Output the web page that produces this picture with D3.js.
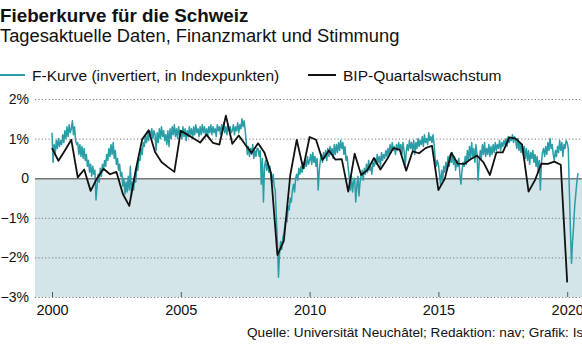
<!DOCTYPE html>
<html>
<head>
<meta charset="utf-8">
<script src="https://cdn.jsdelivr.net/npm/d3@7"></script>
<style>
  body { margin: 0; background: #fff; }
  svg { display: block; font-family: "Liberation Sans", Arial, sans-serif; }
</style>
</head>
<body>
<script>
// quarterly GDP growth, 2000Q1 .. 2020Q1 (in %)
var bipValues = [
  0.76, 0.44, 0.70, 0.97,
  0.02, 0.22, -0.32, 0.00,
  0.24, 0.10, 0.16, -0.40,
  -0.70, 0.20, 0.98, 1.21,
  0.66, 0.41, 0.28, 0.16,
  1.20, 1.10, 1.00, 0.90,
  1.10, 0.89, 0.85, 1.58,
  0.87, 1.08, 0.85, 0.64,
  0.88, 0.64, 0.13, -1.94,
  -1.58, 0.08, 0.97, 0.25,
  1.04, 0.97, 0.46, 0.70,
  0.47, 0.48, -0.34, 0.62,
  0.08, 0.21, 0.51, 0.22,
  0.47, 0.76, 0.72, 0.19,
  0.68, 0.63, 0.76, 0.82,
  -0.30, -0.01, 0.64, 0.37,
  0.36, 0.48, 0.57, 0.40,
  0.08, 0.65, 0.65, 1.03,
  1.00, 0.85, -0.34, -0.05,
  0.37, 0.36, 0.42, 0.34,
  -2.63
];

// F-Kurve, inverted, two readings per month from Jan 2000
var fKurveValues = [
  // 2000
  1.15, 0.4, 0.85, 0.6, 0.95, 0.75, 1.0, 0.8, 0.95, 0.85, 1.1, 0.9, 1.2, 1.0, 1.3, 1.05, 1.35, 1.15, 1.25, 1.45, 1.1, 1.3, 0.95, 0.85,
  // 2001
  0.9, 0.6, 0.85, 0.55, 0.8, 0.5, 0.75, 0.45, 0.6, 0.3, 0.45, 0.15, 0.35, 0.05, 0.3, 0.1, 0.2, -0.55, -0.2, 0.1, -0.1, 0.25, 0.05, 0.35,
  // 2002
  0.2, 0.45, 0.3, 0.6, 0.45, 0.75, 0.55, 0.85, 0.6, 0.9, 0.5, 0.7, 0.35, 0.5, 0.2, 0.35, 0.05, 0.15, -0.2, 0.0, -0.4, -0.1, -0.35, 0.05,
  // 2003
  -0.3, 0.3, -0.45, -0.1, -0.3, 0.05, -0.1, 0.3, 0.2, 0.5, 0.45, 0.75, 0.6, 0.9, 0.8, 1.05, 0.9, 1.15, 0.95, 1.2, 1.05, 1.25, 1.0, 1.2,
  // 2004
  1.1, 0.7, 1.15, 0.9, 1.25, 1.0, 1.3, 1.05, 1.2, 0.95, 1.1, 0.85, 1.2, 0.8, 1.25, 1.0, 1.3, 1.1, 1.35, 1.05, 1.25, 1.0, 1.3, 1.1,
  // 2005
  1.2, 1.0, 1.3, 1.05, 1.25, 0.95, 1.2, 1.05, 1.3, 1.1, 1.25, 1.0, 1.3, 1.1, 1.35, 1.15, 1.25, 1.05, 1.3, 1.1, 1.35, 1.15, 1.3, 1.1,
  // 2006
  1.25, 1.05, 1.3, 1.15, 1.35, 1.1, 1.3, 1.15, 1.25, 1.05, 1.35, 1.2, 1.3, 1.1, 1.35, 1.2, 1.4, 1.15, 1.3, 1.1, 1.35, 1.2, 1.3, 1.15,
  // 2007
  1.2, 1.35, 1.1, 1.3, 1.2, 1.4, 1.15, 1.35, 1.25, 1.5, 1.3, 1.45, 1.2, 0.9, 0.6, 0.8, 0.55, 0.75, 0.6, 0.85, 0.5, 0.7, 0.55, 0.75,
  // 2008
  0.75, 0.55, 0.7, -0.15, 0.5, -0.6, 0.3, 0.45, 0.2, 0.4, 0.15, 0.3, 0.0, -0.1, 0.1, -0.2, -0.3, -1.0, -1.6, -2.5, -1.9, -1.6, -1.8, -1.5,
  // 2009
  -1.4, -1.2, -1.0, -1.1, -0.7, -0.8, -0.5, -0.6, -0.3, -0.15, -0.35, 0.0, 0.1, -0.05, 0.25, 0.1, 0.3, 0.15, 0.4, 0.25, 0.45, 0.3, 0.55, 0.35,
  // 2010
  0.45, 0.6, 0.35, 0.65, 0.4, 0.55, 0.3, 0.5, -0.3, 0.2, 0.45, 0.6, 0.4, 0.65, 0.5, 0.7, 0.45, 0.75, 0.55, 0.8, 0.6, 0.75, 0.5, 0.85,
  // 2011
  0.6, 0.85, 0.65, 0.9, 0.7, 0.95, 0.75, 0.9, 0.6, 0.8, 0.45, 0.55, 0.25, 0.0, -0.3, 0.05, -0.35, -0.1, 0.0, -0.6, -0.2, 0.05, -0.45, -0.1,
  // 2012
  0.05, 0.2, -0.05, 0.25, 0.1, 0.35, 0.15, 0.45, 0.2, 0.3, 0.1, 0.4, 0.3, 0.5, 0.35, 0.6, 0.4, 0.55, 0.3, 0.65, 0.45, 0.6, 0.5, 0.7,
  // 2013
  0.55, 0.75, 0.6, 0.85, 0.65, 0.9, 0.7, 0.8, 0.6, 0.85, 0.7, 0.9, 0.75, 0.85, 0.6, 0.9, 0.7, 0.3, 0.65, 0.85, 0.7, 0.95, 0.75, 0.9,
  // 2014
  0.7, 0.95, 0.6, 0.9, 0.75, 1.0, 0.8, 0.95, 0.85, 1.05, 0.8, 1.1, 0.9, 1.0, 0.85, 1.15, 0.95, 1.05, 0.9, 1.1, 0.85, 0.5, 0.3, 0.45,
  // 2015
  0.35, 0.1, -0.15, 0.2, -0.05, 0.3, 0.15, 0.4, 0.25, 0.55, 0.3, 0.6, 0.4, 0.65, 0.35, 0.55, 0.2, 0.45, 0.3, 0.5, 0.1, -0.15, 0.2, 0.4,
  // 2016
  0.3, 0.55, 0.35, 0.7, 0.45, 0.8, 0.5, 0.9, 0.55, 0.75, 0.4, 0.85, 0.6, -0.05, 0.4, 0.7, 0.5, 0.85, 0.6, 0.9, 0.55, 0.75, 0.6, 0.85,
  // 2017
  0.55, 0.8, 0.6, 0.85, 0.65, 0.9, 0.7, 0.85, 0.75, 0.95, 0.7, 0.9, 0.8, 0.95, 0.85, 1.0, 0.8, 1.05, 0.9, 1.0, 0.95, 1.1, 0.9, 1.05,
  // 2018
  0.95, 0.75, 1.0, 0.7, 0.9, 0.65, 0.85, 0.6, 0.8, 0.5, 0.75, 0.45, 0.7, 0.35, 0.65, 0.5, 0.7, 0.4, 0.6, 0.3, 0.55, 0.15, 0.45, -0.3,
  // 2019
  0.4, 0.65, 0.75, 0.55, 0.8, 0.6, 0.9, 0.7, 1.0, 0.75, 0.85, 0.6, 0.45, 0.7, 0.55, 0.8, 0.65, 0.95, 0.7, 0.9, 0.55, 0.85, 0.75, 0.95,
  // 2020
  0.9, 0.75, -0.3, -1.3, -2.15, -1.6, -1.2, -0.7, -0.4, -0.1, 0.13
];

var yTicks = [2, 1, 0, -1, -2, -3];
var yTickLabels = ["2%", "1%", "0", "\u22121%", "\u22122%", "\u22123%"];
var xTicks = [2000, 2005, 2010, 2015, 2020];

var width = 582, height = 353;
var plotLeft = 35, plotRight = 582, plotTop = 99, plotBottom = 297;

var svg = d3.select("body").append("svg")
  .attr("width", width)
  .attr("height", height);

var x = d3.scaleLinear()
  .domain([2000, 2020])
  .range([52, 567.2]);

var y = d3.scaleLinear()
  .domain([-3, 2])
  .range([plotBottom, plotTop]);

var bip = bipValues.map(function(v, i) { return { t: 2000 + i / 4, v: v }; });
var fk = fKurveValues.map(function(v, i) { return { t: 2000 + i / 24, v: v }; });

// titles
svg.append("text")
  .attr("x", 0).attr("y", 22)
  .attr("font-size", 18.8).attr("font-weight", "bold")
  .attr("fill", "#111")
  .text("Fieberkurve für die Schweiz");

svg.append("text")
  .attr("x", 0).attr("y", 42)
  .attr("font-size", 18.3)
  .attr("fill", "#111")
  .text("Tagesaktuelle Daten, Finanzmarkt und Stimmung");

// legend
var legend = svg.append("g").attr("font-size", 15.5).attr("fill", "#111");
legend.append("line")
  .attr("x1", 0).attr("x2", 25).attr("y1", 75).attr("y2", 75)
  .attr("stroke", "#2a9da6").attr("stroke-width", 2);
legend.append("text").attr("x", 32).attr("y", 80.5)
  .text("F-Kurve (invertiert, in Indexpunkten)");
legend.append("line")
  .attr("x1", 308).attr("x2", 336).attr("y1", 75).attr("y2", 75)
  .attr("stroke", "#111").attr("stroke-width", 2);
legend.append("text").attr("x", 343).attr("y", 80.5)
  .text("BIP-Quartalswachstum");

// shaded negative area
svg.append("rect")
  .attr("x", plotLeft).attr("y", y(0))
  .attr("width", plotRight - plotLeft).attr("height", y(-3) - y(0))
  .attr("fill", "#d4e5ea");

// y axis with grid
var yAxis = d3.axisLeft(y)
  .tickValues(yTicks)
  .tickSize(-(plotRight - plotLeft))
  .tickPadding(6)
  .tickFormat(function(d, i) { return yTickLabels[i]; });

var gy = svg.append("g")
  .attr("transform", "translate(" + plotLeft + ",0)")
  .call(yAxis);
gy.select(".domain").remove();
gy.selectAll(".tick line")
  .attr("stroke", "#777")
  .attr("stroke-dasharray", function(d) { return d === 0 ? null : "1.2,2.2"; })
  .attr("stroke-width", function(d) { return d === 0 ? 1.5 : 1; });
gy.selectAll(".tick text")
  .attr("font-size", 14)
  .attr("font-family", "Liberation Sans, Arial, sans-serif")
  .attr("fill", "#111");

// x axis
var xAxis = d3.axisBottom(x)
  .tickValues(xTicks)
  .tickSize(-5)
  .tickPadding(8)
  .tickFormat(d3.format("d"));

var gx = svg.append("g")
  .attr("transform", "translate(0," + plotBottom + ")")
  .call(xAxis);
gx.select(".domain").remove();
gx.selectAll(".tick line").attr("stroke", "#555");
gx.selectAll(".tick text")
  .attr("font-size", 14.5)
  .attr("font-family", "Liberation Sans, Arial, sans-serif")
  .attr("fill", "#111");

// lines
var line = d3.line()
  .x(function(d) { return x(d.t); })
  .y(function(d) { return y(d.v); });

svg.append("path")
  .datum(fk)
  .attr("d", line)
  .attr("fill", "none")
  .attr("stroke", "#2a9da6")
  .attr("stroke-width", 1.5)
  .attr("stroke-linejoin", "round");

svg.append("path")
  .datum(bip)
  .attr("d", line)
  .attr("fill", "none")
  .attr("stroke", "#111")
  .attr("stroke-width", 1.8)
  .attr("stroke-linejoin", "round");

// source
svg.append("text")
  .attr("x", 247).attr("y", 337)
  .attr("font-size", 13.6)
  .attr("fill", "#111")
  .text("Quelle: Universität Neuchâtel; Redaktion: nav; Grafik: Isl");
</script>
</body>
</html>
